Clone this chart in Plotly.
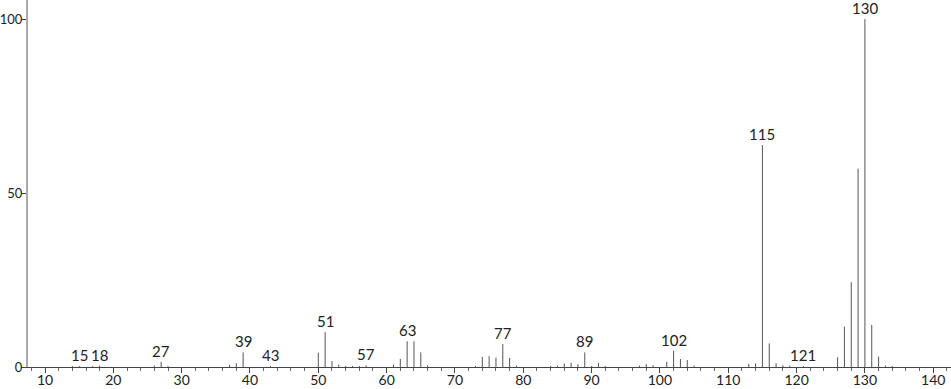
import plotly.graph_objects as go

# m/z values and relative intensities
mz = [14, 15, 17, 18, 26, 27, 28, 37, 38, 39, 43, 50, 51, 52, 53, 54, 55, 56, 57,
      61, 62, 63, 64, 65, 66, 73, 74, 75, 76, 77, 78, 79, 84, 85, 86, 87, 88, 89,
      90, 91, 92, 97, 98, 99, 101, 102, 103, 104, 105, 113, 114, 115, 116, 117,
      118, 119, 121, 126, 127, 128, 129, 130, 131, 132, 133, 134]
intensity = [0.3, 0.3, 0.3, 0.4, 0.4, 1.5, 0.3, 0.6, 1.1, 4.2, 0.3, 4.1, 10.1, 1.7, 0.7, 0.3, 0.3, 0.3, 0.5,
             0.7, 2.3, 7.4, 7.4, 4.2, 0.5, 0.3, 2.9, 3.1, 2.7, 6.6, 2.6, 0.4, 0.3, 0.4, 1.0, 1.2, 0.8, 4.2,
             0.3, 1.2, 0.3, 0.4, 0.8, 0.5, 1.5, 4.7, 2.3, 2.0, 0.4, 0.9, 1.0, 63.8, 6.8, 1.1,
             0.5, 0.4, 0.3, 2.8, 11.6, 24.4, 57.0, 100.0, 12.1, 3.0, 0.4, 0.3]
labeled = [15, 18, 27, 39, 43, 51, 57, 63, 77, 89, 102, 115, 121, 130]

x_ticks = [10, 20, 30, 40, 50, 60, 70, 80, 90, 100, 110, 120, 130, 140]
y_ticks = [0, 50, 100]

FONT = "Lato"
FS = 14
xs, ys = [], []
for m, v in zip(mz, intensity):
    xs += [m, m, None]
    ys += [0, v, None]

fig = go.Figure()
fig.add_trace(go.Scatter(x=xs, y=ys, mode="lines",
                         line=dict(color="#555555", width=1),
                         hoverinfo="skip", showlegend=False))

lookup = dict(zip(mz, intensity))
for m in labeled:
    fig.add_annotation(x=m, y=lookup[m], text=str(m), showarrow=False,
                       yanchor="bottom", yshift=0,
                       font=dict(family=FONT, size=FS + 1, color="#222222"))

fig.update_layout(
    width=951, height=389,
    margin=dict(l=28, r=0, t=0, b=22),
    paper_bgcolor="white", plot_bgcolor="white",
    font=dict(family=FONT, size=FS, color="#222222"),
    xaxis=dict(range=[7.51, 142.6], tickvals=x_ticks, showgrid=False, zeroline=False,
               automargin=False, ticklabelstandoff=-5,
               showline=True, linecolor="#444444", linewidth=1,
               ticks="outside", ticklen=5, tickcolor="#444444",
               minor=dict(dtick=2, tick0=0, ticks="outside", ticklen=3, tickcolor="#666666"),
               tickfont=dict(family=FONT, size=FS, color="#222222")),
    yaxis=dict(range=[0, 105.5], tickvals=y_ticks, showgrid=False, zeroline=False,
               automargin=False, ticklabelstandoff=-4,
               showline=True, linecolor="#aaaaaa", linewidth=2,
               ticks="outside", ticklen=5, tickcolor="#444444",
               tickfont=dict(family=FONT, size=13, color="#222222")),
)

fig.write_html("out.html")
